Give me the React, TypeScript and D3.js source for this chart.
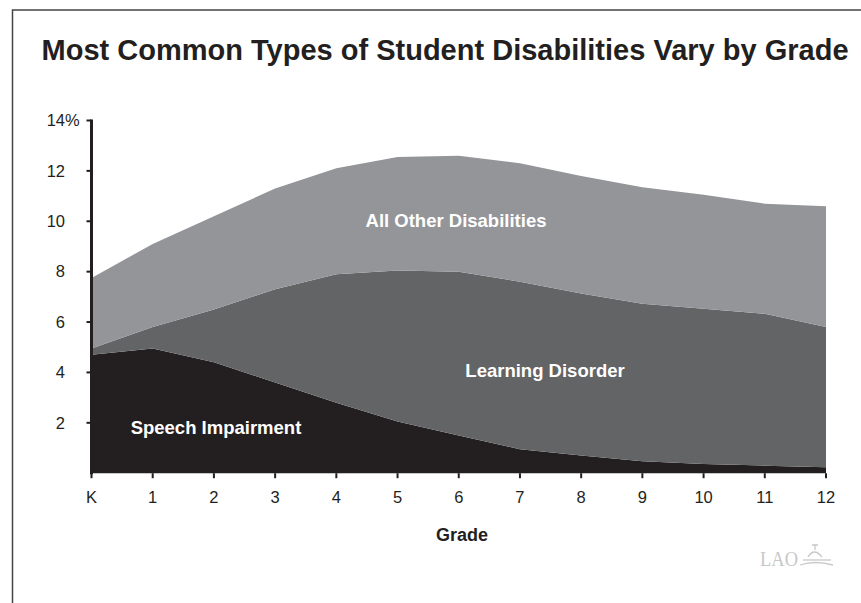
import React from 'react';
import * as d3 from 'd3';

// grades along the x axis
const grades = ['K', '1', '2', '3', '4', '5', '6', '7', '8', '9', '10', '11', '12'];
// percent of students
const speech = [4.7, 4.95, 4.4, 3.6, 2.8, 2.05, 1.5, 0.95, 0.7, 0.47, 0.37, 0.3, 0.24];
const learning = [0.25, 0.85, 2.1, 3.7, 5.1, 6.0, 6.5, 6.65, 6.43, 6.26, 6.16, 6.03, 5.56];
const other = [2.8, 3.3, 3.7, 4.0, 4.2, 4.5, 4.6, 4.7, 4.67, 4.62, 4.52, 4.37, 4.8];
const yTicks = [2, 4, 6, 8, 10, 12, 14];

const seriesKeys = ['speech', 'learning', 'other'];
const seriesColors: Record<string, string> = {
  speech: '#231f20',
  learning: '#636466',
  other: '#939598',
};

const W = 861, H = 603;
const margin = { top: 120.5, right: 35, bottom: 129.8, left: 91.5 };
const titleX = 41.5, titleW = 807;

export default function App() {
  const titleRef = React.useRef<SVGTextElement>(null);
  const [titleScale, setTitleScale] = React.useState(0.84);

  // squeeze the title to the condensed width of the original
  React.useLayoutEffect(() => {
    if (titleRef.current) {
      const w = titleRef.current.getComputedTextLength();
      if (w > 0) setTitleScale(titleW / w);
    }
  }, []);

  const x = d3.scalePoint().domain(grades).range([margin.left, W - margin.right]);
  const y = d3.scaleLinear().domain([0, 14]).range([H - margin.bottom, margin.top]);

  const rows = grades.map((g, i) => ({ grade: g, speech: speech[i], learning: learning[i], other: other[i] }));
  const stacked = d3.stack<any>().keys(seriesKeys)(rows);
  const area = d3.area<any>()
    .x((d) => x(d.data.grade) as number)
    .y0((d) => y(d[0]))
    .y1((d) => y(d[1]))
    .curve(d3.curveLinear);

  const font = 'Liberation Sans, Arial, Helvetica, sans-serif';
  const y0 = y(0);
  const ax = x('K') as number;

  return (
    <svg width={W} height={H} style={{ position: 'absolute', left: 0, top: 0, background: '#fff' }}>
      {/* frame */}
      <path d={`M12.5,${H} L12.5,10 L${W},10`} fill="none" stroke="#444" strokeWidth={1.5} />

      <g transform={`translate(${titleX},60) scale(${titleScale},1)`}>
        <text ref={titleRef} x={0} y={0} fontFamily={font} fontWeight="bold" fontSize={30} fill="#231f20">
          Most Common Types of Student Disabilities Vary by Grade
        </text>
      </g>

      {stacked.map((s) => (
        <path key={s.key} d={area(s) as string} fill={seriesColors[s.key]} />
      ))}

      {/* y axis */}
      <line x1={ax} x2={ax} y1={y(14) - 1} y2={y0 + 1} stroke="#231f20" strokeWidth={3} />
      {yTicks.map((t) => (
        <g key={t}>
          <line x1={ax - 5} x2={ax} y1={y(t)} y2={y(t)} stroke="#231f20" strokeWidth={2} />
          <text x={65} y={y(t)} dy="0.35em" textAnchor="end" fontFamily={font} fontSize={16.5} fill="#231f20">
            {t}
          </text>
          {t === 14 && (
            <text x={65} y={y(t)} dy="0.35em" fontFamily={font} fontSize={16.5} fill="#231f20">%</text>
          )}
        </g>
      ))}

      {/* x axis ticks */}
      {grades.map((g) => (
        <g key={g}>
          <line x1={x(g)} x2={x(g)} y1={y0} y2={y0 + 5} stroke="#231f20" strokeWidth={2} />
          <text x={x(g)} y={503} textAnchor="middle" fontFamily={font} fontSize={16.5} fill="#231f20">{g}</text>
        </g>
      ))}
      <text x={462} y={541} textAnchor="middle" fontFamily={font} fontWeight="bold" fontSize={18} fill="#231f20">Grade</text>

      {/* series labels */}
      <text x={456} y={227} textAnchor="middle" fontFamily={font} fontWeight="bold" fontSize={18.5} fill="#fff">All Other Disabilities</text>
      <text x={545} y={377} textAnchor="middle" fontFamily={font} fontWeight="bold" fontSize={18.5} fill="#fff">Learning Disorder</text>
      <text x={216} y={434} textAnchor="middle" fontFamily={font} fontWeight="bold" fontSize={18.5} fill="#fff">Speech Impairment</text>

      {/* LAO mark */}
      <text x={760} y={566} fontFamily="Liberation Serif, Times New Roman, serif" fontSize={21} fill="#c8c8c8"
        textLength={38} lengthAdjust="spacingAndGlyphs">LAO</text>
      <g fill="none" stroke="#c8c8c8" strokeWidth={1.3}>
        <path d="M800,565 Q815,560 833,565" />
        <path d="M803,560 L831,560" />
        <path d="M808,557 Q814,547 822,557" />
        <path d="M815,550 L815,545 M812,545 L818,545" />
      </g>
    </svg>
  );
}
